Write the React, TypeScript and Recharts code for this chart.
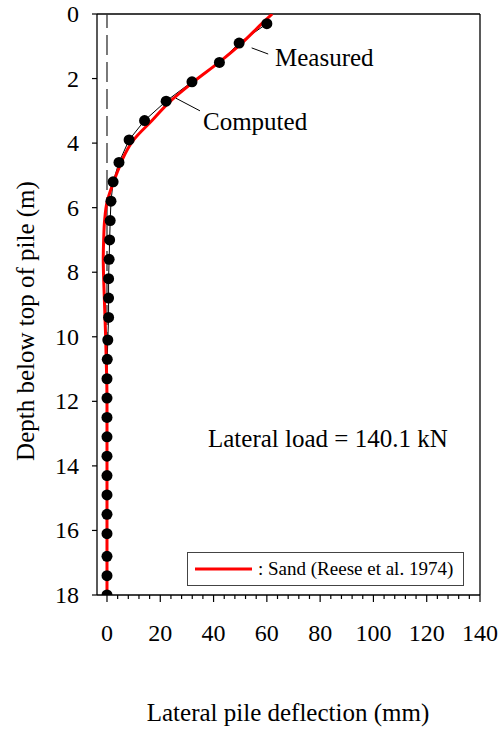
import React from 'react';
import { ComposedChart, Line, XAxis, YAxis, ReferenceLine, Legend, Customized } from 'recharts';

// measured deflection profile (depth m, deflection mm)
const measuredDepth = [0.3, 0.9, 1.5, 2.1, 2.7, 3.3, 3.9, 4.6, 5.2, 5.8, 6.4, 7.0, 7.6, 8.2, 8.8, 9.4, 10.1, 10.7, 11.3, 11.9, 12.5, 13.1, 13.7, 14.3, 14.9, 15.5, 16.1, 16.8, 17.4, 18.0];
const measuredDefl = [60.0, 49.6, 42.2, 31.9, 22.2, 14.1, 8.3, 4.5, 2.3, 1.5, 1.2, 1.0, 0.8, 0.6, 0.6, 0.6, 0.3, 0.1, 0, 0, 0, 0, 0, 0, 0, 0, 0, 0, 0, 0];

// computed with Sand (Reese et al. 1974)
const computedDepth = [0, 0.3, 0.9, 1.5, 2.1, 2.7, 3.3, 3.9, 4.5, 4.85, 5.2, 5.5, 5.8, 6.4, 7.0, 7.6, 8.2, 8.8, 9.4, 10.0, 10.7, 11.3, 12.0, 18.0];
const computedDefl = [62.0, 58.1, 50.6, 42.0, 32.5, 23.8, 16.9, 10.0, 5.8, 4.1, 2.5, 1.2, 0.1, -0.9, -1.25, -1.4, -1.25, -1.0, -0.75, -0.5, -0.3, -0.1, 0, 0];

const xTicks = [0, 4, 8, 12, 16, 20, 24, 28, 32, 36, 40, 44, 48, 52, 56, 60, 64, 68, 72, 76, 80, 84, 88, 92, 96, 100, 104, 108, 112, 116, 120, 124, 128, 132, 136, 140];
const yTicks = [0, 2, 4, 6, 8, 10, 12, 14, 16, 18];

const measured = measuredDepth.map((d, i) => ({ depth: d, defl: measuredDefl[i] }));
const computed = computedDepth.map((d, i) => ({ depth: d, defl: computedDefl[i] }));

const FONT = 'Liberation Serif, Times New Roman, serif';
const serif = { fontFamily: FONT };

const XTick = (props: any) => {
  const { x, y, payload } = props;
  const major = payload.value % 20 === 0;
  return (
    <g>
      <line x1={x} y1={y} x2={x} y2={y + (major ? 7 : 4)} stroke="#000" strokeWidth={1.2} />
      {major && (
        <text x={x} y={y + 46} textAnchor="middle" style={serif} fontSize={24} fill="#000">
          {payload.value}
        </text>
      )}
    </g>
  );
};

const YTick = (props: any) => {
  const { x, y, payload } = props;
  return (
    <text x={x} y={y + 8} textAnchor="end" style={serif} fontSize={24} fill="#000">
      {payload.value}
    </text>
  );
};

const Annotations = () => (
  <g style={serif} fill="#000">
    <text x={275} y={66} fontSize={25} style={serif}>Measured</text>
    <text x={203} y={130} fontSize={25} style={serif}>Computed</text>
    <text x={208} y={447} fontSize={25} style={serif}>Lateral load = 140.1 kN</text>
    <text x={288} y={721} fontSize={25} textAnchor="middle" style={serif}>Lateral pile deflection (mm)</text>
    <text x={34} y={321} fontSize={25} textAnchor="middle" style={serif} transform="rotate(-90 34 321)">
      Depth below top of pile (m)
    </text>
  </g>
);

const LegendBox = () => (
  <div
    style={{
      boxSizing: 'border-box',
      width: 277,
      height: 34,
      border: '1.3px solid #444',
      display: 'flex',
      alignItems: 'center',
      paddingLeft: 7,
      fontFamily: FONT,
      fontSize: 19,
      color: '#000',
      background: '#fff',
    }}
  >
    <svg width={58} height={6} style={{ marginRight: 5 }}>
      <line x1={0} y1={3} x2={57} y2={3} stroke="#ff0000" strokeWidth={3} />
    </svg>
    <span>: Sand (Reese et al. 1974)</span>
  </div>
);

export default function App() {
  return (
    <div style={{ position: 'absolute', left: 0, top: 0 }}>
      <ComposedChart width={500} height={731} margin={{ top: 14, right: 20, left: 0, bottom: 0 }}>
        <XAxis
          type="number"
          dataKey="defl"
          domain={[-3.75, 140]}
          ticks={xTicks}
          interval={0}
          allowDataOverflow
          tickSize={0}
          tickMargin={0}
          tickLine={false}
          tick={<XTick />}
          height={102}
          axisLine={{ stroke: '#000', strokeWidth: 1.3 }}
        />
        <YAxis
          type="number"
          dataKey="depth"
          reversed
          domain={[0, 18]}
          ticks={yTicks}
          interval={0}
          allowDataOverflow
          width={97}
          tickSize={5}
          tickMargin={13}
          tickLine={{ stroke: '#000', strokeWidth: 1.2 }}
          axisLine={{ stroke: '#000', strokeWidth: 1.3 }}
          tick={<YTick />}
        />
        <ReferenceLine y={0} stroke="#000" strokeWidth={1.3} />
        <ReferenceLine x={140} stroke="#000" strokeWidth={1.3} />
        <ReferenceLine x={0} stroke="#333" strokeWidth={1.3} strokeDasharray="20 7" />
        <ReferenceLine segment={[{ x: 54.3, y: 1.05 }, { x: 60.5, y: 1.24 }]} stroke="#000" strokeWidth={1} />
        <ReferenceLine segment={[{ x: 25.9, y: 2.61 }, { x: 34.9, y: 3.0 }]} stroke="#000" strokeWidth={1} />
        <Line
          data={measured}
          dataKey="depth"
          type="linear"
          stroke="#000"
          strokeWidth={1}
          dot={{ r: 5.5, fill: '#000', stroke: '#000', strokeWidth: 0 }}
          isAnimationActive={false}
          legendType="none"
        />
        <Line
          data={computed}
          dataKey="depth"
          type="monotoneY"
          stroke="#ff0000"
          strokeWidth={3}
          dot={false}
          isAnimationActive={false}
        />
        <Legend
          content={<LegendBox />}
          wrapperStyle={{ left: 187, top: 552, width: 277, height: 34, bottom: 'auto' }}
        />
        <Customized component={Annotations} />
      </ComposedChart>
    </div>
  );
}
